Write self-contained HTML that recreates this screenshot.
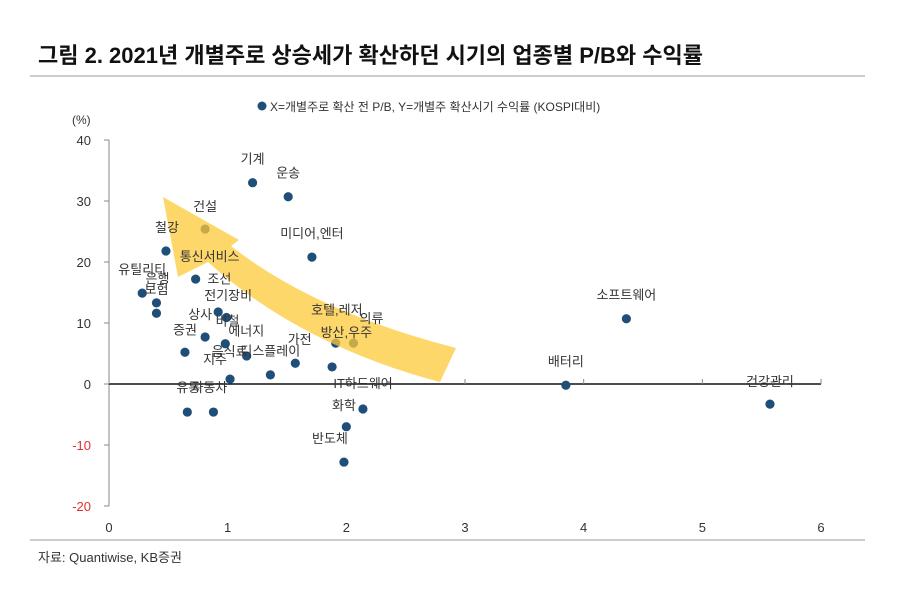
<!DOCTYPE html>
<html><head><meta charset="utf-8"><style>
body{margin:0;background:#fff;}
svg text{font-family:"Liberation Sans","Noto Sans CJK KR",sans-serif;}
</style></head><body>
<svg width="900" height="611" viewBox="0 0 900 611" xmlns="http://www.w3.org/2000/svg">
<text x="38" y="63" font-size="22" font-weight="bold" fill="#111">그림 2. 2021년 개별주로 상승세가 확산하던 시기의 업종별 P/B와 수익률</text>
<line x1="30" y1="76" x2="865" y2="76" stroke="#999" stroke-width="1"/>
<g>
<circle cx="262" cy="106" r="4.5" fill="#1f4e79"/>
<text x="270" y="111" font-size="12" fill="#333">X=개별주로 확산 전 P/B, Y=개별주 확산시기 수익률 (KOSPI대비)</text>
</g>
<text x="72" y="124" font-size="12" fill="#333">(%)</text>
<g id="axes"></g>
<path d="M440,382 Q300,345 208,262 L178,277 L163,197 L239,240 L231,246 Q315,312 456,348 Z" fill="#fdc93a" fill-opacity="0.75"/>
<g id="labels"></g>
<line x1="30" y1="540" x2="865" y2="540" stroke="#999" stroke-width="1"/>
<text x="38" y="562" font-size="13" fill="#333">자료: Quantiwise, KB증권</text>
</svg>
<script>
const sectors=["기계","운송","건설","철강","미디어,엔터","통신서비스","유틸리티","은행","보험","상사","비철","전기장비","에너지","증권","음식료","디스플레이","IT하드웨어","","지주","유통","자동차","가전","의류","화학","","반도체","배터리","소프트웨어","건강관리"];
const pbValues=[1.21,1.51,0.81,0.48,1.71,0.73,0.28,0.40,0.40,0.92,0.99,0.81,0.98,0.64,1.16,1.57,1.88,1.36,1.02,0.66,0.88,1.91,2.06,2.14,2.00,1.98,3.85,4.36,5.57];
const retValues=[33.0,30.7,25.4,21.8,20.8,17.2,14.9,13.3,11.6,11.8,10.9,7.7,6.6,5.2,4.6,3.4,2.8,1.5,0.8,-4.6,-4.6,6.7,6.7,-4.1,-7.0,-12.8,-0.2,10.7,-3.3];
const xTicks=[0,1,2,3,4,5,6];
const yTicks=[40,30,20,10,0,-10,-20];
const labelDx=[0,0,0,1,0,14,0,1,0,-18,1,23,21,0,-17,-25,31,0,-15,1,-4,-36,18,-19,0,-14,0,0,0];
const labelDy=[-20,-20,-19,-20,-20,-19,-20,-21,-20,6,7,-38,-9,-19,-1,-9,20,0,-16,-21,-21,0,-21,0,0,-20,-20,-20,-19];
const extraLabels=[["조선",0.93,16.5],["호텔,레저",1.92,11.4],["방산,우주",2.0,7.7]];
const X0=109,X1=821,Y0=506,Y1=140;
const xS=v=>X0+(v-0)/(6-0)*(X1-X0);
const yS=v=>Y0-(v+20)/(60)*(Y0-Y1);
const NS="http://www.w3.org/2000/svg";
const ax=document.getElementById('axes');
function mk(t,a,p){const e=document.createElementNS(NS,t);for(const k in a)e.setAttribute(k,a[k]);(p||ax).appendChild(e);return e;}
let yl=mk('line',{x1:X0,y1:Y1,x2:X0,y2:Y0,stroke:'#888','stroke-width':1});


yTicks.forEach(v=>{
 let t=mk('line',{x1:X0-5,y1:yS(v),x2:X0,y2:yS(v),stroke:'#888'});
 
 
 let l=mk('text',{x:X0-18,y:yS(v)+5,'font-size':13,'text-anchor':'end',fill:v<0?'#e03030':'#333'});
 l.textContent=v;
 
 
});
let xl=mk('line',{x1:X0,y1:yS(0),x2:X1,y2:yS(0),stroke:'#111','stroke-width':1.6});


xTicks.forEach(v=>{
 let t=mk('line',{x1:xS(v),y1:yS(0),x2:xS(v),y2:yS(0)-5,stroke:'#888'});
 
 
 let l=mk('text',{x:xS(v),y:532,'font-size':13,'text-anchor':'middle',fill:'#333'});
 l.textContent=v;
 
 
});
pbValues.forEach((v,i)=>{
 let c=mk('circle',{cx:xS(v),cy:yS(retValues[i]),r:4.6,fill:'#1f4e79'});
 
 
});
const lg=document.getElementById('labels');
sectors.forEach((s,i)=>{
 if(!s)return;
 let l=mk('text',{x:xS(pbValues[i])+labelDx[i],y:yS(retValues[i])+labelDy[i]+1,'font-size':13,'text-anchor':'middle',fill:'#333'},lg);
 l.textContent=s;
 
 
});
extraLabels.forEach(a=>{
 let l=mk('text',{x:xS(a[1]),y:yS(a[2]),'font-size':13,'text-anchor':'middle',fill:'#333'},lg);
 l.textContent=a[0];
 
 
});
</script>
</body></html>
